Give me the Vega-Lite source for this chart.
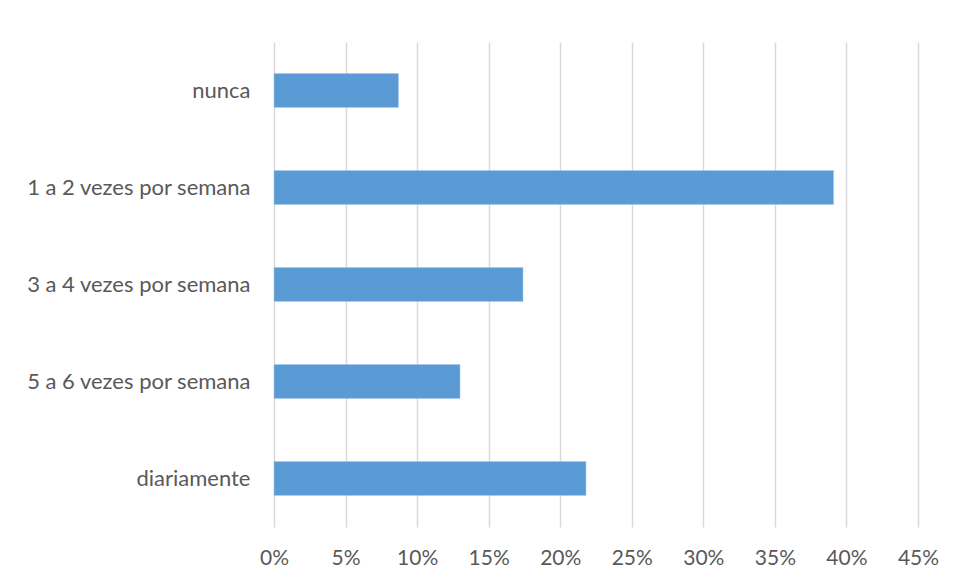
{
  "$schema": "https://vega.github.io/schema/vega-lite/v6.json",
  "width": 644,
  "height": 485,
  "autosize": "none",
  "padding": {"left": 274, "top": 42, "right": 38, "bottom": 53},
  "background": "white",
  "data": {
    "values": [
      {"categoria": "nunca", "percentual": 0.087},
      {"categoria": "1 a 2 vezes por semana", "percentual": 0.391},
      {"categoria": "3 a 4 vezes por semana", "percentual": 0.174},
      {"categoria": "5 a 6 vezes por semana", "percentual": 0.130},
      {"categoria": "diariamente", "percentual": 0.218}
    ]
  },
  "mark": {"type": "bar", "color": "#5b9bd5", "stroke": "#a9c8e8", "strokeWidth": 0.5},
  "encoding": {
    "y": {
      "field": "categoria",
      "type": "nominal",
      "sort": null,
      "scale": {"paddingInner": 0.65, "paddingOuter": 0.325},
      "axis": {
        "title": null,
        "domain": false,
        "ticks": false,
        "grid": false,
        "labelPadding": 24,
        "labelLimit": 300,
        "labelFont": "Lato",
        "labelFontSize": 22,
        "labelColor": "#595959"
      }
    },
    "x": {
      "field": "percentual",
      "type": "quantitative",
      "scale": {"domain": [0, 0.45], "nice": false},
      "axis": {
        "title": null,
        "values": [0, 0.05, 0.1, 0.15, 0.2, 0.25, 0.3, 0.35, 0.4, 0.45],
        "format": ".0%",
        "domain": false,
        "ticks": false,
        "grid": true,
        "gridColor": "#d9d9d9",
        "gridWidth": 1.5,
        "labelFlush": false,
        "labelPadding": 20,
        "labelFont": "Lato",
        "labelFontSize": 21,
        "labelColor": "#595959"
      }
    }
  },
  "config": {"view": {"stroke": null}}
}
